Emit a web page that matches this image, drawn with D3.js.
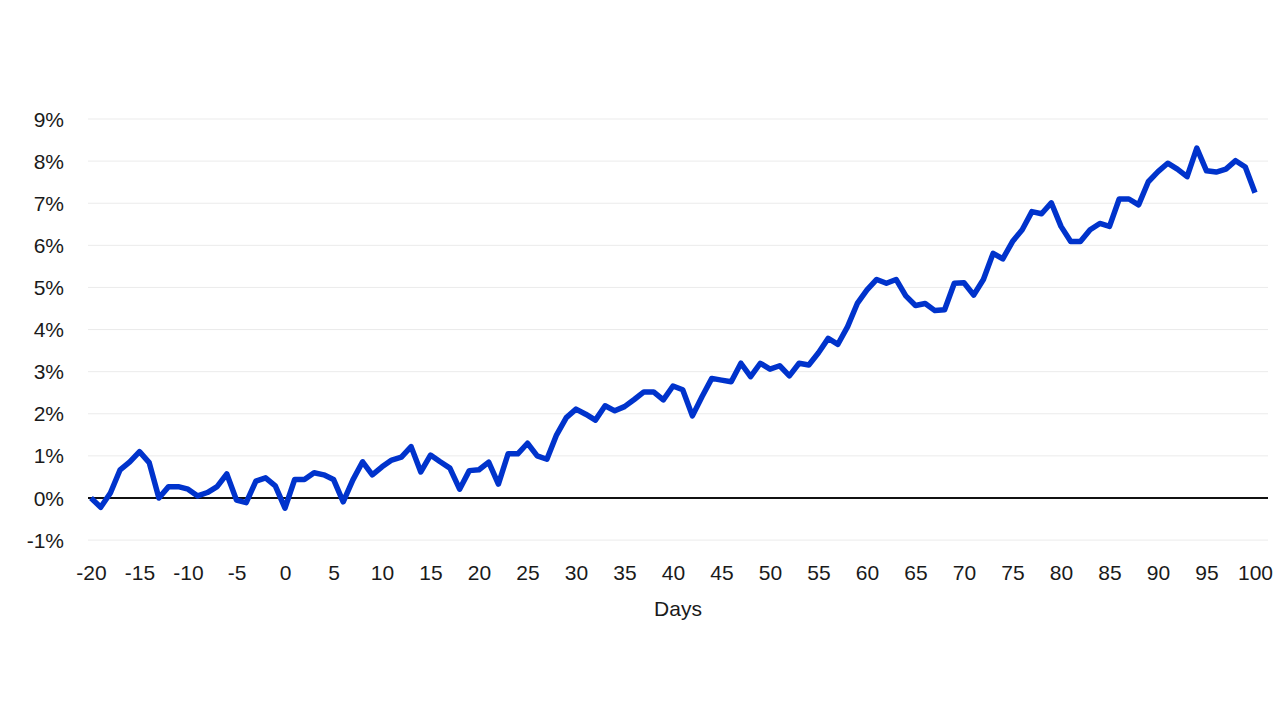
<!DOCTYPE html>
<html><head><meta charset="utf-8">
<script src="https://cdn.jsdelivr.net/npm/d3@7"></script>
<style>body{margin:0;background:#fff;}svg{display:block;font-family:"Liberation Sans",Arial,sans-serif;}</style>
</head><body><svg id="c" width="1280" height="720"></svg>
<script>
const days = d3.range(-20, 101);
const values = [
 0.00,-0.22,0.12,0.67,0.86,1.10,0.84,0.00,0.27,0.27,
 0.21,0.05,0.13,0.27,0.57,-0.05,-0.11,0.40,0.48,0.29,
 -0.24,0.44,0.44,0.60,0.55,0.44,-0.09,0.43,0.86,0.55,
 0.74,0.90,0.97,1.22,0.62,1.02,0.86,0.71,0.21,0.65,
 0.67,0.85,0.33,1.05,1.05,1.30,1.00,0.92,1.50,1.91,
 2.11,1.99,1.85,2.19,2.07,2.17,2.34,2.52,2.52,2.33,
 2.66,2.57,1.95,2.41,2.84,2.80,2.76,3.20,2.88,3.20,
 3.06,3.14,2.90,3.20,3.16,3.45,3.79,3.65,4.07,4.62,
 4.94,5.19,5.10,5.19,4.80,4.57,4.62,4.45,4.47,5.10,
 5.11,4.82,5.19,5.81,5.68,6.09,6.37,6.80,6.75,7.01,
 6.45,6.09,6.09,6.37,6.52,6.45,7.10,7.10,6.96,7.51,
 7.75,7.95,7.81,7.63,8.31,7.77,7.74,7.81,8.01,7.86,
 7.25
];
const xTicks = d3.range(-20, 101, 5);
const yTicks = d3.range(-1, 10, 1);
const xLabel = "Days";

const svg = d3.select("#c");
const x = d3.scaleLinear().domain([-20, 100]).range([91, 1255]);
const y = d3.scaleLinear().domain([0, 9]).range([498, 119]);

// gridlines
svg.append("g").selectAll("line").data(yTicks.filter(t => t !== 0)).join("line")
  .attr("x1", 88).attr("x2", 1268)
  .attr("y1", d => y(d)).attr("y2", d => y(d))
  .attr("stroke", "#ebebeb").attr("stroke-width", 1);

// y labels
svg.append("g").selectAll("text").data(yTicks).join("text")
  .attr("x", 64).attr("y", d => y(d)).attr("dy", "0.36em")
  .attr("text-anchor", "end").attr("font-size", 21).attr("fill", "#1a1a1a")
  .text(d => d + "%");

// x axis labels
const xAxis = d3.axisBottom(x).tickValues(xTicks).tickSize(0).tickPadding(0).tickFormat(d => d);
const gx = svg.append("g").attr("transform", "translate(0,565)").call(xAxis);
gx.select(".domain").remove();
gx.selectAll("text").attr("font-size", 21).attr("fill", "#1a1a1a")
  .attr("font-family", "Liberation Sans, Arial, sans-serif").attr("dy", "0.71em");

svg.append("text").attr("x", 678).attr("y", 616).attr("text-anchor", "middle")
  .attr("font-size", 21).attr("fill", "#1a1a1a").text(xLabel);

// zero line
svg.append("line").attr("x1", 88).attr("x2", 1268)
  .attr("y1", y(0)).attr("y2", y(0)).attr("stroke", "#111").attr("stroke-width", 2);

// series line
const data = days.map((d, i) => ({d, v: values[i]}));
svg.append("path").datum(data)
  .attr("fill", "none").attr("stroke", "#0033cc").attr("stroke-width", 5.5)
  .attr("stroke-linejoin", "round").attr("stroke-linecap", "butt")
  .attr("d", d3.line().x(p => x(p.d)).y(p => y(p.v)));
</script></body></html>
